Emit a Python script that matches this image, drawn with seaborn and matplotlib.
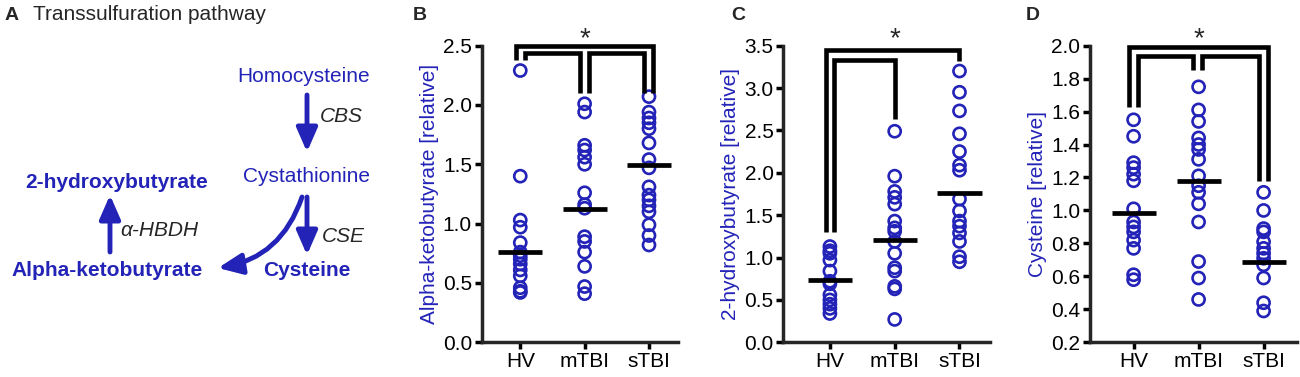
import numpy as np
import pandas as pd
import matplotlib
matplotlib.use("Agg")
import matplotlib.pyplot as plt
import seaborn as sns
from matplotlib.patches import FancyArrowPatch

# groups
groups = ["HV", "mTBI", "sTBI"]

# panel B - alpha-ketobutyrate
akb_hv = [2.29, 1.40, 1.03, 0.97, 0.84, 0.76, 0.73, 0.70, 0.66, 0.61, 0.56, 0.46, 0.43, 0.42]
akb_mtbi = [2.01, 1.94, 1.66, 1.62, 1.56, 1.50, 1.26, 1.16, 1.13, 0.89, 0.85, 0.76, 0.64, 0.47, 0.41]
akb_stbi = [2.07, 1.94, 1.89, 1.85, 1.80, 1.68, 1.54, 1.47, 1.31, 1.24, 1.20, 1.15, 1.10, 0.99, 0.90, 0.82]
akb_line = [0.76, 1.12, 1.49]

# panel C - 2-hydroxybutyrate
hb_hv = [1.13, 1.08, 1.05, 0.97, 0.84, 0.72, 0.69, 0.56, 0.50, 0.45, 0.40, 0.34]
hb_mtbi = [2.49, 1.96, 1.78, 1.71, 1.63, 1.43, 1.35, 1.31, 1.19, 1.05, 0.88, 0.84, 0.66, 0.63, 0.27]
hb_stbi = [3.20, 2.95, 2.73, 2.46, 2.25, 2.09, 2.03, 1.69, 1.55, 1.43, 1.37, 1.29, 1.19, 1.01, 0.95]
hb_line = [0.74, 1.21, 1.76]

# panel D - cysteine
cys_hv = [1.55, 1.45, 1.29, 1.26, 1.22, 1.18, 1.01, 0.93, 0.90, 0.87, 0.82, 0.77, 0.61, 0.58]
cys_mtbi = [1.75, 1.61, 1.54, 1.44, 1.40, 1.37, 1.31, 1.21, 1.15, 1.11, 1.04, 0.93, 0.69, 0.59, 0.46]
cys_stbi = [1.11, 1.00, 0.89, 0.87, 0.81, 0.77, 0.74, 0.71, 0.67, 0.59, 0.44, 0.39]
cys_line = [0.985, 1.18, 0.69]

blue = "#2323b8"

sns.set_style("ticks")
plt.rcParams['font.family'] = ['Liberation Sans', 'DejaVu Sans']

fig = plt.figure(figsize=(13, 3.77), dpi=100)


def make_df(hv, mtbi, stbi):
    return pd.DataFrame({
        "group": ["HV"] * len(hv) + ["mTBI"] * len(mtbi) + ["sTBI"] * len(stbi),
        "value": hv + mtbi + stbi,
    })


def bracket(ax, x1, x2, ytop, y1, y2):
    ax.plot([x1, x1, x2, x2], [y1, ytop, ytop, y2], color="black", lw=3.3,
            solid_joinstyle="miter", solid_capstyle="butt", clip_on=False, zorder=5)


def panel(rect, hv, mtbi, stbi, line_vals, ylabel, ylim, yticks, xlim):
    ax = fig.add_axes(rect)
    df = make_df(hv, mtbi, stbi)
    sns.stripplot(data=df, x="group", y="value", order=groups, jitter=False,
                  size=8.7, ax=ax, zorder=3)
    for coll in ax.collections:
        coll.set_facecolor("none")
        coll.set_edgecolor(blue)
        coll.set_linewidth(1.9)
    ax.hlines(line_vals, np.arange(3) - 0.34, np.arange(3) + 0.34, color="black", lw=3.4, zorder=4)
    ax.set_ylim(*ylim)
    ax.set_xlim(*xlim)
    ax.set_yticks(yticks)
    ax.set_yticklabels([f"{t:.1f}" for t in yticks])
    ax.set_xlabel("")
    ax.set_ylabel(ylabel, color=blue, fontsize=15, labelpad=3)
    sns.despine(ax=ax)
    for s in ["left", "bottom"]:
        ax.spines[s].set_linewidth(2.5)
    ax.tick_params(width=2.5, length=5, labelsize=15, colors="black", pad=2)
    return ax


# panel B
axB = panel([0.3705, 0.092, 0.151, 0.787], akb_hv, akb_mtbi, akb_stbi, akb_line,
            "Alpha-ketobutyrate [relative]", (0, 2.5), [0, 0.5, 1.0, 1.5, 2.0, 2.5], (-0.6, 2.45))
bracket(axB, -0.07, 2.07, 2.5, 2.38, 2.10)
bracket(axB, 0.07, 0.93, 2.435, 2.38, 2.10)
bracket(axB, 1.07, 1.93, 2.435, 2.10, 2.10)
axB.text(1, 2.66, "*", ha="center", va="top", fontsize=20)

# panel C
axC = panel([0.6025, 0.092, 0.159, 0.787], hb_hv, hb_mtbi, hb_stbi, hb_line,
            "2-hydroxybutyrate [relative]", (0, 3.5), [0, 0.5, 1.0, 1.5, 2.0, 2.5, 3.0, 3.5], (-0.72, 2.47))
bracket(axC, -0.06, 2.0, 3.45, 1.30, 3.32)
bracket(axC, 0.06, 1.0, 3.33, 1.30, 2.63)
axC.text(1, 3.73, "*", ha="center", va="top", fontsize=20)

# panel D
axD = panel([0.8385, 0.092, 0.159, 0.787], cys_hv, cys_mtbi, cys_stbi, cys_line,
            "Cysteine [relative]", (0.2, 2.0), [0.2, 0.4, 0.6, 0.8, 1.0, 1.2, 1.4, 1.6, 1.8, 2.0], (-0.67, 2.51))
bracket(axD, -0.07, 2.06, 1.99, 1.63, 1.18)
bracket(axD, 0.07, 0.92, 1.935, 1.63, 1.85)
bracket(axD, 1.05, 1.93, 1.935, 1.85, 1.18)
axD.text(1, 2.12, "*", ha="center", va="top", fontsize=20)

# panel letters
fig.text(413 / 1300, 1 - 15 / 377, "B", fontsize=14, fontweight="bold", va="center")
fig.text(731 / 1300, 1 - 15 / 377, "C", fontsize=14, fontweight="bold", va="center")
fig.text(1026 / 1300, 1 - 15 / 377, "D", fontsize=14, fontweight="bold", va="center")

# panel A - pathway diagram
axA = fig.add_axes([0, 0, 400 / 1300, 1])
axA.set_xlim(0, 400)
axA.set_ylim(377, 0)
axA.axis("off")
axA.text(5, 15, "A", fontsize=14, fontweight="bold", va="center")
axA.text(33, 15, "Transsulfuration pathway", fontsize=15, va="center")
axA.text(304, 77, "Homocysteine", fontsize=15, color=blue, ha="center", va="center")
axA.text(307, 177, "Cystathionine", fontsize=15, color=blue, ha="center", va="center")
axA.text(117, 182, "2-hydroxybutyrate", fontsize=15, color=blue, fontweight="bold", ha="center", va="center")
axA.text(107, 270, "Alpha-ketobutyrate", fontsize=15, color=blue, fontweight="bold", ha="center", va="center")
axA.text(307, 270, "Cysteine", fontsize=15, color=blue, fontweight="bold", ha="center", va="center")
axA.text(320, 117, "CBS", fontsize=15, style="italic", va="center")
axA.text(322, 237, "CSE", fontsize=15, style="italic", va="center")
axA.text(120, 230, "α-HBDH", fontsize=15, style="italic", va="center")

arrow_kw = dict(arrowstyle="-|>,head_length=0.8,head_width=0.35", color=blue, lw=3.5,
                mutation_scale=18, shrinkA=0, shrinkB=0)
axA.add_patch(FancyArrowPatch((307, 95), (307, 152), **arrow_kw))
axA.add_patch(FancyArrowPatch((307, 197), (307, 255), **arrow_kw))
axA.add_patch(FancyArrowPatch((110, 252), (110, 195), **arrow_kw))
axA.add_patch(FancyArrowPatch((302, 197), (218, 268), connectionstyle="arc3,rad=-0.3", **arrow_kw))

fig.savefig("out.png", dpi=100)
